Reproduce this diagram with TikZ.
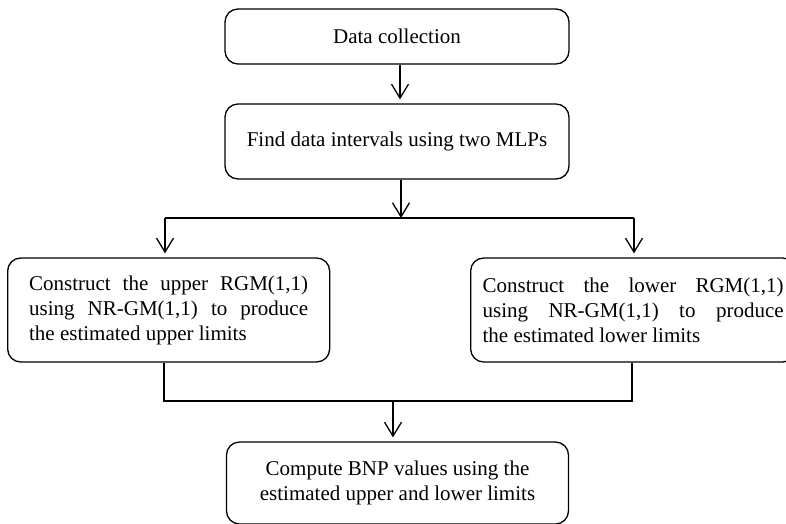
\documentclass[tikz,border=0pt]{standalone}
\usepackage{fontspec}
\setmainfont{Liberation Serif}
\usetikzlibrary{arrows.meta}
\hbadness=10000
\tikzset{
  box/.style={draw, line width=1.3pt, rounded corners=13pt, font=\fontsize{21}{25}\selectfont},
  conn/.style={line width=1.3pt},
  arr/.style={line width=1.3pt, -{Straight Barb[length=14pt,width=17pt,line width=1.3pt]}, shorten >=4pt},
  arrt/.style={line width=1.3pt, -{Straight Barb[length=14pt,width=17pt,line width=1.3pt]}}
}
\begin{document}
\begin{tikzpicture}[x=1pt,y=-1pt]
\useasboundingbox (0,0) rectangle (786,523);
\clip (0,0) rectangle (786,523);
\node[box, minimum width=344pt, minimum height=55pt] (data) at (397,36.5) {Data collection};
\node[box, minimum width=344pt, minimum height=75pt] (find) at (397,141.5) {Find data intervals using two MLPs};
\node[box, anchor=west, text width=279pt, inner xsep=21.5pt, minimum height=104pt, align=justify] (left) at (7,310)
  {\noindent Construct the upper RGM(1,1)\linebreak using NR-GM(1,1) to produce\linebreak the estimated upper limits};
\node[box, anchor=west, text width=301pt, inner xsep=12pt, minimum height=104pt, align=justify] (right) at (470,310)
  {\noindent Construct the lower RGM(1,1)\linebreak using NR-GM(1,1) to produce\linebreak the estimated lower limits};
\node[box, minimum width=342pt, minimum height=82pt, align=center] (bnp) at (397.5,483)
  {Compute BNP values using the\\estimated upper and lower limits};
% top arrow
\draw[arr] ([xshift=3pt]data.south) -- ([xshift=3pt]find.north);
% split
\coordinate (s0) at (401,218);
\coordinate (sl) at (165,218);
\coordinate (sr) at (634,218);
\draw[arrt] ([xshift=4pt]find.south) -- (s0);
\draw[conn] (sl) -- (sr);
\draw[arr] (sl) -- (sl |- left.north);
\draw[arr] (sr) -- (sr |- right.north);
% merge
\coordinate (ml) at (164,401);
\coordinate (mr) at (632,401);
\coordinate (m0) at (393,401);
\draw[conn] (ml |- left.south) -- (ml) -- (mr) -- (mr |- right.south);
\draw[arr] (m0) -- (m0 |- bnp.north);
\end{tikzpicture}
\end{document}
